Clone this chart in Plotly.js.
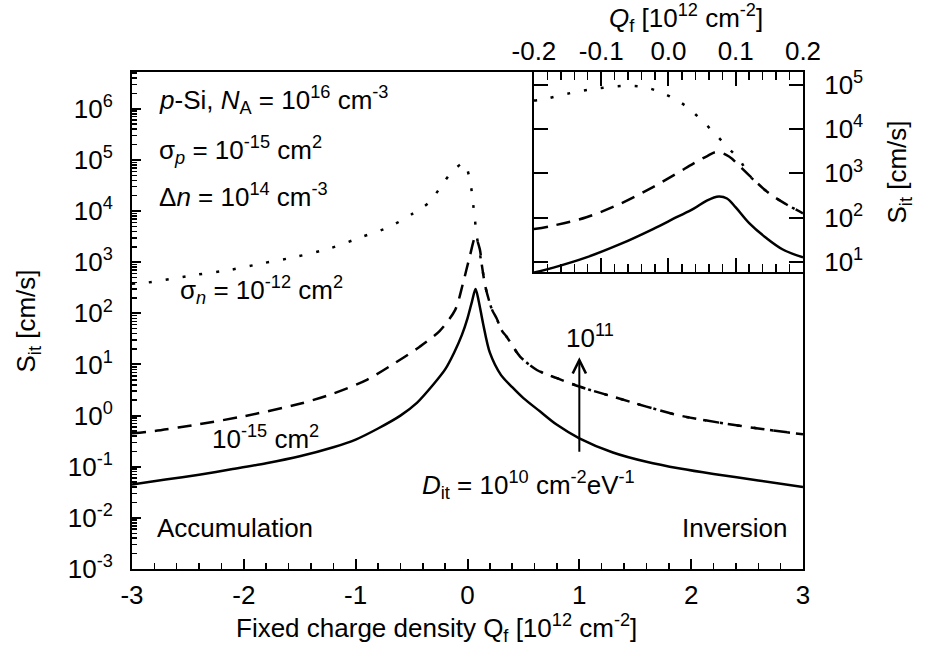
<!DOCTYPE html>
<html><head><meta charset="utf-8">
<script src="https://cdn.plot.ly/plotly-3.0.1.min.js"></script>
<style>body{margin:0;background:#fff}#chart{width:925px;height:666px}</style>
</head><body><div id="chart"></div>
<script>
// ---- main plot data (Q_f in 1e12 cm^-2, S_it in cm/s) ----
const qSolid = [-3, -2.7, -2.4, -2.1, -1.8, -1.5, -1.2, -1, -0.8, -0.6, -0.45, -0.3, -0.2, -0.12, -0.05, 0, 0.04, 0.072, 0.1, 0.14, 0.2, 0.3, 0.4, 0.5, 0.65, 0.8, 1, 1.3, 1.6, 1.9, 2.2, 2.6, 3];
const sSolid = [0.045, 0.056, 0.07, 0.09, 0.117, 0.16, 0.24, 0.34, 0.56, 1.0, 1.8, 4.2, 8, 17, 38, 80, 170, 300, 175, 62, 17, 6.2, 3.6, 2.2, 1.2, 0.66, 0.36, 0.19, 0.125, 0.092, 0.072, 0.054, 0.04];

const qDashed = [-3, -2.8, -2.4, -2, -1.5, -1.2, -0.9, -0.64, -0.43, -0.25, -0.11, -0.04, 0.02, 0.07, 0.11, 0.13, 0.16, 0.22, 0.26, 0.31, 0.35, 0.47, 0.62, 0.8, 1, 1.3, 1.6, 1.9, 2.3, 2.6, 3];
const sDashed = [0.45, 0.5, 0.68, 0.97, 1.7, 2.7, 5, 11, 22, 45, 117, 390, 1290, 3100, 1800, 830, 330, 117, 80, 45, 35, 14.3, 7.8, 5.4, 3.7, 2.35, 1.5, 1.0, 0.7, 0.56, 0.43];

const qDotted = [-3, -2.9, -2.42, -2.12, -1.83, -1.53, -1.23, -0.94, -0.7, -0.49, -0.34, -0.23, -0.135, -0.03, 0.017, 0.038, 0.053, 0.068, 0.08, 0.1, 0.13, 0.16, 0.22, 0.26, 0.31, 0.35, 0.47, 0.62, 0.8, 1, 1.3, 1.6, 1.9, 2.3, 2.6, 3];
const sDotted = [380, 390, 570, 710, 955, 1280, 1870, 3150, 4900, 8900, 15000, 32000, 60000, 87000, 45000, 24000, 12300, 6300, 3500, 2000, 830, 330, 117, 80, 45, 35, 14.3, 7.8, 5.4, 3.7, 2.35, 1.5, 1.0, 0.7, 0.56, 0.43];

// ---- inset data ----
const qInSolid = [-0.2, -0.171, -0.122, -0.072, -0.023, 0.012, 0.037, 0.057, 0.075, 0.087, 0.1, 0.12, 0.145, 0.17, 0.2];
const sInSolid = [5.7, 7.4, 12.6, 25, 55, 102, 157, 243, 300, 270, 170, 75, 35, 19, 12.6];

const qInDashed = [-0.2, -0.171, -0.122, -0.072, -0.023, 0.012, 0.037, 0.057, 0.072, 0.09, 0.105, 0.12, 0.15, 0.175, 0.2];
const sInDashed = [55, 66, 102, 204, 490, 985, 1660, 2430, 3030, 2400, 1500, 900, 350, 200, 125];

const qInDotted = [-0.2, -0.189, -0.146, -0.102, -0.06, -0.037, -0.018, 0.005, 0.027, 0.049, 0.069, 0.087, 0.106, 0.12, 0.15, 0.175, 0.2];
const sInDotted = [44000, 46000, 65000, 84000, 95000, 89000, 74000, 52000, 32000, 16000, 7900, 4000, 2000, 900, 350, 200, 125];

// ---- tick labels ----
const xTickVals = [-3, -2, -1, 0, 1, 2, 3];
const xTickText = ['-3', '-2', '-1', '0', '1', '2', '3'];
const yTickVals = [1e-3, 1e-2, 1e-1, 1e0, 1e1, 1e2, 1e3, 1e4, 1e5, 1e6];
const yTickText = ['10<sup>-3</sup>', '10<sup>-2</sup>', '10<sup>-1</sup>', '10<sup>0</sup>', '10<sup>1</sup>', '10<sup>2</sup>', '10<sup>3</sup>', '10<sup>4</sup>', '10<sup>5</sup>', '10<sup>6</sup>'];
const x2TickVals = [-0.2, -0.1, 0, 0.1, 0.2];
const x2TickText = ['-0.2', '-0.1', '0.0', '0.1', '0.2'];
const y2TickVals = [1e1, 1e2, 1e3, 1e4, 1e5];
const y2TickText = ['10<sup>1</sup>', '10<sup>2</sup>', '10<sup>3</sup>', '10<sup>4</sup>', '10<sup>5</sup>'];

const FONT = 'Arial, "Liberation Sans", sans-serif';
const FS = 26;
const LW = 2.5;
const dashPat = '14px,9px';
const dotPat = '3px,14px';

const traces = [
  {x: qDotted, y: sDotted, mode: 'lines', line: {color: 'black', width: LW, dash: dotPat, shape: 'spline', smoothing: 0.8}, xaxis: 'x', yaxis: 'y'},
  {x: qDashed, y: sDashed, mode: 'lines', line: {color: 'black', width: LW, dash: dashPat, shape: 'spline', smoothing: 0.8}, xaxis: 'x', yaxis: 'y'},
  {x: qSolid, y: sSolid, mode: 'lines', line: {color: 'black', width: LW, shape: 'spline', smoothing: 0.8}, xaxis: 'x', yaxis: 'y'},
  {x: qInDotted, y: sInDotted, mode: 'lines', line: {color: 'black', width: LW, dash: dotPat, shape: 'spline', smoothing: 1}, xaxis: 'x2', yaxis: 'y2'},
  {x: qInDashed, y: sInDashed, mode: 'lines', line: {color: 'black', width: LW, dash: dashPat, shape: 'spline', smoothing: 1}, xaxis: 'x2', yaxis: 'y2'},
  {x: qInSolid, y: sInSolid, mode: 'lines', line: {color: 'black', width: LW, shape: 'spline', smoothing: 1}, xaxis: 'x2', yaxis: 'y2'}
];

const axBase = {showline: true, linecolor: 'black', linewidth: 2, showgrid: false, zeroline: false,
  tickcolor: 'black', tickwidth: 2, tickfont: {family: FONT, size: FS, color: 'black'}};

const ann = (x, y, text, xanchor, extra) => Object.assign({xref: 'paper', yref: 'paper', x: x, y: y, text: text, showarrow: false,
  xanchor: xanchor || 'left', yanchor: 'middle', font: {family: FONT, size: FS, color: 'black'}}, extra || {});

const layout = {
  width: 925, height: 666,
  margin: {l: 132, r: 122, t: 72, b: 97},
  paper_bgcolor: 'white', plot_bgcolor: 'white',
  showlegend: false,
  xaxis: Object.assign({}, axBase, {domain: [0, 1], anchor: 'y', range: [-3, 3], tickmode: 'array', tickvals: xTickVals, ticktext: xTickText,
    ticks: 'inside', ticklen: 10, mirror: true, ticklabelstandoff: 2,
    minor: {ticks: 'inside', ticklen: 6, tickwidth: 1.5, tickcolor: 'black', tick0: -3, dtick: 0.2}}),
  yaxis: Object.assign({}, axBase, {domain: [0, 1], anchor: 'x', type: 'log', range: [-3, 6.72], tickmode: 'array', tickvals: yTickVals, ticktext: yTickText,
    ticks: 'inside', ticklen: 9, mirror: true, ticklabelstandoff: 12,
    minor: {ticks: 'inside', ticklen: 5, tickwidth: 1.5, tickcolor: 'black', dtick: 'D1'}}),
  xaxis2: Object.assign({}, axBase, {domain: [0.599, 1], anchor: 'y2', side: 'top', range: [-0.2, 0.2], tickmode: 'array', tickvals: x2TickVals, ticktext: x2TickText,
    ticks: 'inside', ticklen: 14, mirror: 'ticks',
    minor: {ticks: 'inside', ticklen: 8, tickwidth: 1.5, tickcolor: 'black', tick0: -0.2, dtick: 0.02}}),
  yaxis2: Object.assign({}, axBase, {domain: [0.5976, 1], anchor: 'x2', side: 'right', type: 'log', range: [0.77, 5.29], tickmode: 'array', tickvals: y2TickVals, ticktext: y2TickText,
    ticks: 'inside', ticklen: 14, mirror: 'ticks', ticklabelstandoff: 14,
    title: {text: 'S<sub>it</sub> [cm/s]', font: {family: FONT, size: FS, color: 'black'}, standoff: 26}}),
  annotations: [
    // axis titles
    ann(0.152, -0.118, 'Fixed charge density Q<sub>f</sub> [10<sup>12</sup> cm<sup>-2</sup>]'),
    {xref: 'paper', yref: 'paper', x: -0.155, y: 0.5, text: 'S<sub>it</sub> [cm/s]', showarrow: false, textangle: -90,
      xanchor: 'center', yanchor: 'middle', font: {family: FONT, size: FS, color: 'black'}},
    ann(0.8256, 1.1087, '<i>Q</i><sub>f</sub> [10<sup>12</sup> cm<sup>-2</sup>]', 'center'),
    // in-plot labels
    ann(0.037, 0.944, '<i>p</i>-Si, <i>N</i><sub>A</sub> = 10<sup>16</sup> cm<sup>-3</sup>'),
    ann(0.037, 0.843, 'σ<sub><i>p</i></sub> = 10<sup>-15</sup> cm<sup>2</sup>'),
    ann(0.037, 0.7525, 'Δ<i>n</i> = 10<sup>14</sup> cm<sup>-3</sup>'),
    ann(0.0686, 0.561, 'σ<sub><i>n</i></sub> = 10<sup>-12</sup> cm<sup>2</sup>'),
    ann(0.116, 0.2636, '10<sup>-15</sup> cm<sup>2</sup>'),
    ann(0.429, 0.169, '<i>D</i><sub>it</sub> = 10<sup>10</sup> cm<sup>-2</sup>eV<sup>-1</sup>'),
    ann(0.6826, 0.467, '10<sup>11</sup>', 'center'),
    ann(0.034, 0.0825, 'Accumulation'),
    ann(0.981, 0.0825, 'Inversion', 'right'),
    {xref: 'x', yref: 'paper', x: 1, y: 0.426, ax: 0, ay: 96, axref: 'pixel', ayref: 'pixel', text: '', showarrow: true,
      arrowhead: 5, arrowsize: 1.3, arrowwidth: 2, arrowcolor: 'black'}
  ]
};

Plotly.newPlot('chart', traces, layout, {staticPlot: true, displayModeBar: false});
</script>
</body></html>
